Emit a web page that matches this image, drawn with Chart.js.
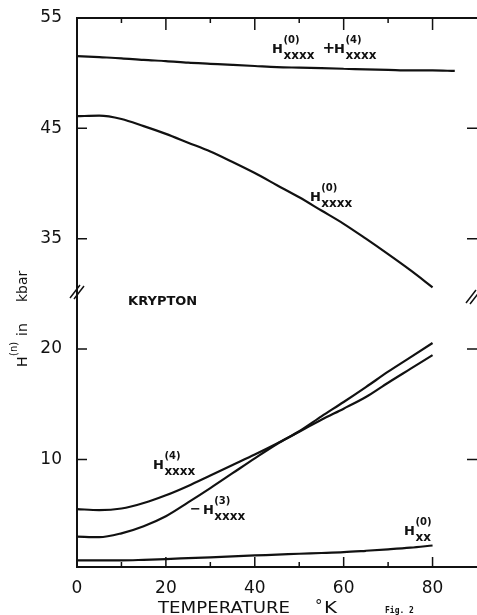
<!DOCTYPE html>
<html>
<head>
<meta charset="utf-8">
<title>Krypton H(n) vs temperature</title>
<script src="https://cdn.jsdelivr.net/npm/chart.js@4.4.1/dist/chart.umd.min.js"></script>
<style>
  html, body { margin: 0; padding: 0; background: #fff; }
</style>
</head>
<body>
<canvas id="kryptonChart" width="477" height="615"></canvas>
<script>
// temperature, degrees K
const temps = [0, 5, 10, 15, 20, 25, 30, 35, 40, 45, 50, 55, 60, 65, 70, 75, 80, 85];

// H values in kbar
const sumH0H4 = [51.55, 51.45, 51.35, 51.2, 51.1, 50.95, 50.85, 50.75, 50.65, 50.55, 50.5, 50.45, 50.4, 50.35, 50.3, 50.25, 50.25, 50.2];
const h0xxxx = [46.1, 46.15, 45.85, 45.2, 44.5, 43.7, 42.9, 41.95, 40.95, 39.85, 38.75, 37.55, 36.35, 35.0, 33.6, 32.15, 30.6, null];
const h4xxxx = [5.5, 5.4, 5.55, 6.05, 6.75, 7.6, 8.55, 9.5, 10.45, 11.45, 12.5, 13.6, 14.6, 15.65, 16.95, 18.2, 19.45, null];
const minusH3xxxx = [3.0, 2.95, 3.3, 3.95, 4.85, 6.1, 7.4, 8.75, 10.1, 11.4, 12.55, 13.9, 15.2, 16.55, 17.95, 19.25, 20.55, null];
const h0xx = [0.85, 0.85, 0.85, 0.9, 0.97, 1.05, 1.13, 1.22, 1.3, 1.37, 1.45, 1.52, 1.6, 1.72, 1.85, 2.0, 2.2, null];

// axis ticks
const xTicks = [0, 20, 40, 60, 80];
const xMinorTicks = [10, 20, 30, 40, 50, 60, 70, 80];
const yTicks = [10, 20, 35, 45, 55];

// the axis is broken: everything above the cut is shifted down by breakShift
const breakShift = 5;
const breakAt = 25.35;   // axis value where the // marks sit
const toAxis = v => v == null ? null : (v > 27 ? v - breakShift : v);

const ink = '#111';
const FONT = '"DejaVu Sans", sans-serif';

function pts(vals) {
  return temps.map((t, i) => ({ x: t, y: toAxis(vals[i]) }));
}

function line(vals) {
  return {
    data: pts(vals),
    borderColor: ink,
    borderWidth: 2.2,
    pointRadius: 0,
    cubicInterpolationMode: 'monotone',
    fill: false
  };
}

// H with superscript and subscript, returns right edge
function drawH(ctx, x, y, sup, sub) {
  ctx.font = 'bold 13px ' + FONT;
  ctx.fillText('H', x, y);
  const sx = x + ctx.measureText('H').width + 0.5;
  ctx.font = 'bold 10px ' + FONT;
  ctx.fillText(sup, sx, y - 10);
  const w1 = ctx.measureText(sup).width;
  ctx.font = 'bold 12px ' + FONT;
  ctx.fillText(sub, sx, y + 6);
  return sx + Math.max(w1, ctx.measureText(sub).width);
}

function fitText(ctx, text, x, y, width) {
  const w = ctx.measureText(text).width;
  ctx.save();
  ctx.translate(x, y);
  ctx.scale(width / w, 1);
  ctx.fillText(text, 0, 0);
  ctx.restore();
}

const decorations = {
  id: 'decorations',
  beforeDraw(chart) {
    const ctx = chart.ctx;
    ctx.save();
    ctx.fillStyle = '#fff';
    ctx.fillRect(0, 0, chart.width, chart.height);
    ctx.restore();
  },
  afterDraw(chart) {
    const { ctx, chartArea: a, scales: { x, y } } = chart;
    ctx.save();
    ctx.strokeStyle = ink;
    ctx.fillStyle = ink;

    // frame (right side runs off the picture)
    ctx.lineWidth = 2;
    ctx.beginPath();
    ctx.moveTo(a.right, a.top);
    ctx.lineTo(a.left, a.top);
    ctx.lineTo(a.left, a.bottom);
    ctx.lineTo(a.right, a.bottom);
    ctx.stroke();

    // inward ticks
    ctx.lineWidth = 1.5;
    ctx.beginPath();
    xMinorTicks.forEach(t => {
      const px = x.getPixelForValue(t);
      const major = t % 20 === 0;
      ctx.moveTo(px, a.bottom);
      ctx.lineTo(px, a.bottom - (major ? 10 : 5));
      ctx.moveTo(px, a.top);
      ctx.lineTo(px, a.top + (major ? 12 : 5));
    });
    yTicks.slice(0, 4).forEach(v => {
      const py = y.getPixelForValue(toAxis(v));
      ctx.moveTo(a.left, py);
      ctx.lineTo(a.left + 10, py);
      ctx.moveTo(a.right - 10, py);
      ctx.lineTo(a.right, py);
    });
    ctx.stroke();

    // axis break marks
    const pb = y.getPixelForValue(breakAt);
    ctx.beginPath();
    [0, 4].forEach(d => {
      ctx.moveTo(a.left - 7 + d, pb + 8 + d / 4);
      ctx.lineTo(a.left + 3 + d, pb - 5 + d / 4);
      ctx.moveTo(a.right - 11 + d, pb + 13 + d / 4);
      ctx.lineTo(a.right - 1 + d, pb + d / 4);
    });
    ctx.stroke();

    // curve labels
    const P = (t, v) => [x.getPixelForValue(t), y.getPixelForValue(toAxis(v))];
    ctx.textBaseline = 'alphabetic';
    ctx.textAlign = 'left';

    let [lx, ly] = P(43.9, 51.83);
    let end = drawH(ctx, lx, ly, '(0)', 'xxxx');
    ctx.font = 'bold 15px ' + FONT;
    ctx.fillText('+', end + 8, ly);
    drawH(ctx, lx + 62, ly, '(4)', 'xxxx');

    [lx, ly] = P(52.4, 38.42);
    drawH(ctx, lx, ly, '(0)', 'xxxx');

    [lx, ly] = P(11.5, 24.0);
    ctx.font = 'bold 13px ' + FONT;
    ctx.fillText('KRYPTON', lx, ly);

    [lx, ly] = P(17.1, 9.13);
    drawH(ctx, lx, ly, '(4)', 'xxxx');

    [lx, ly] = P(25.4, 5.05);
    ctx.font = 'bold 13px ' + FONT;
    ctx.fillText('\u2212', lx, ly - 1);
    drawH(ctx, lx + 13, ly, '(3)', 'xxxx');

    [lx, ly] = P(73.6, 3.15);
    drawH(ctx, lx, ly, '(0)', 'xx');

    // x title
    ctx.font = '15px ' + FONT;
    fitText(ctx, 'TEMPERATURE', 158, 613, 132);
    ctx.fillText('\u00b0', 315, 611);
    fitText(ctx, 'K', 324, 613, 13);

    ctx.font = 'bold 8px "DejaVu Sans Mono", monospace';
    ctx.fillText('Fig. 2', 385, 613);

    // y title, rotated
    ctx.save();
    ctx.translate(27, 367);
    ctx.rotate(-Math.PI / 2);
    ctx.font = '14px ' + FONT;
    ctx.fillText('H', 0, 0);
    ctx.font = '10px ' + FONT;
    ctx.fillText('(n)', 11, -10);
    ctx.font = '14px ' + FONT;
    ctx.fillText('in', 31, 0);
    ctx.fillText('kbar', 65, 0);
    ctx.restore();

    ctx.restore();
  }
};

const ctx = document.getElementById('kryptonChart');
new Chart(ctx, {
  type: 'line',
  data: {
    datasets: [
      line(sumH0H4),
      line(h0xxxx),
      line(h4xxxx),
      line(minusH3xxxx),
      line(h0xx)
    ]
  },
  options: {
    responsive: false,
    animation: false,
    devicePixelRatio: 1,
    layout: { padding: { top: 18, left: 0, right: 0, bottom: 0 } },
    plugins: { legend: { display: false }, tooltip: { enabled: false } },
    scales: {
      x: {
        type: 'linear',
        min: 0,
        max: 90,
        afterBuildTicks: s => { s.ticks = xTicks.map(v => ({ value: v })); },
        afterFit: s => { s.height = 48; },
        grid: { display: false },
        border: { display: false },
        ticks: {
          color: ink,
          font: { family: 'DejaVu Sans', size: 17 },
          padding: 3,
          maxRotation: 0,
          autoSkip: false
        }
      },
      y: {
        type: 'linear',
        min: 0.25,
        max: 50,
        afterBuildTicks: s => { s.ticks = yTicks.map(v => ({ value: toAxis(v) })); },
        afterFit: s => { s.width = 77; },
        grid: { display: false },
        border: { display: false },
        ticks: {
          color: ink,
          font: { family: 'DejaVu Sans', size: 17 },
          padding: 7,
          autoSkip: false,
          callback: (v, i) => String(yTicks[i])
        }
      }
    }
  },
  plugins: [decorations]
});
</script>
</body>
</html>
